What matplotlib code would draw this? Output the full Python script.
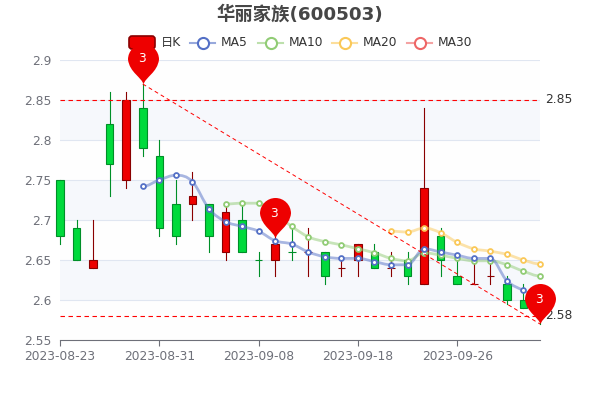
import matplotlib
matplotlib.use("Agg")
import matplotlib.pyplot as plt
from matplotlib.path import Path
from matplotlib.patches import PathPatch, FancyBboxPatch

dates = ["2023-08-23","2023-08-24","2023-08-25","2023-08-28","2023-08-29","2023-08-30","2023-08-31",
         "2023-09-01","2023-09-04","2023-09-05","2023-09-06","2023-09-07","2023-09-08","2023-09-11",
         "2023-09-12","2023-09-13","2023-09-14","2023-09-15","2023-09-18","2023-09-19","2023-09-20",
         "2023-09-21","2023-09-22","2023-09-25","2023-09-26","2023-09-27","2023-09-28","2023-10-09",
         "2023-10-10","2023-10-11"]
opens  = [2.75,2.69,2.64,2.82,2.75,2.84,2.78,2.72,2.72,2.72,2.66,2.70,2.65,2.65,2.66,2.66,2.66,2.64,2.65,2.66,2.64,2.65,2.62,2.68,2.63,2.62,2.63,2.62,2.60,2.58]
closes = [2.68,2.65,2.65,2.77,2.85,2.79,2.69,2.68,2.73,2.68,2.71,2.66,2.65,2.67,2.66,2.66,2.63,2.64,2.67,2.64,2.64,2.63,2.74,2.65,2.62,2.62,2.63,2.60,2.59,2.58]
highs  = [2.75,2.70,2.70,2.86,2.86,2.87,2.80,2.75,2.76,2.72,2.72,2.72,2.66,2.68,2.69,2.69,2.66,2.65,2.67,2.67,2.66,2.66,2.84,2.69,2.65,2.65,2.65,2.63,2.62,2.59]
lows   = [2.67,2.65,2.64,2.73,2.74,2.78,2.68,2.67,2.70,2.66,2.65,2.66,2.63,2.63,2.65,2.63,2.62,2.63,2.63,2.64,2.63,2.62,2.62,2.63,2.62,2.62,2.62,2.595,2.59,2.57]

ma5_idx = list(range(5, 30))
ma5 = [2.742,2.750,2.756,2.748,2.714,2.698,2.692,2.686,2.674,2.670,2.660,2.654,2.652,2.652,2.648,2.644,2.644,2.664,2.660,2.656,2.652,2.652,2.624,2.612,2.604]
ma10_idx = list(range(10, 30))
ma10 = [2.720,2.721,2.721,2.708,2.692,2.679,2.673,2.669,2.664,2.659,2.652,2.649,2.659,2.656,2.652,2.649,2.649,2.644,2.636,2.630]
ma20_idx = list(range(20, 30))
ma20 = [2.686,2.685,2.690,2.684,2.672,2.664,2.661,2.657,2.650,2.645]
pin_idx = [5, 13, 29]
pin_val = [2.87, 2.677, 2.57]
pin_txt = ["3", "3", "3"]
mark_levels = [2.85, 2.58]
y_ticks = [2.55,2.6,2.65,2.7,2.75,2.8,2.85,2.9]
y_labels = ["2.55","2.6","2.65","2.7","2.75","2.8","2.85","2.9"]
x_tick_idx = [0, 6, 12, 18, 24]
legend_names = ["日K","MA5","MA10","MA20","MA30"]
title = "华丽家族(600503)"

UP, UP_E = "#ee0000", "#8a0000"
DN, DN_E = "#00da3c", "#008f28"
C5, C10, C20, C30 = "#5470c6", "#91cc75", "#fac858", "#ee6666"
FONT = ["DejaVu Sans", "Noto Sans CJK SC"]
plt.rcParams["font.family"] = FONT

fig = plt.figure(figsize=(6, 4), dpi=100, facecolor="white")
ov = fig.add_axes([0, 0, 1, 1], zorder=0)
ov.set_xlim(0, 600); ov.set_ylim(400, 0); ov.axis("off")
ax = fig.add_axes([60/600, 60/400, 480/600, 280/400], zorder=1)
ax.patch.set_visible(False)
ax.set_xlim(0, 29); ax.set_ylim(2.55, 2.9)

for i in range(len(y_ticks) - 1):
    c = "#fefefe" if i % 2 == 0 else "#f6f8fc"
    ax.axhspan(y_ticks[i], y_ticks[i+1], color=c, lw=0, zorder=0)
for y in y_ticks[1:]:
    ax.axhline(y, color="#e0e6f1", lw=0.8, zorder=1)

for s in ("top", "left", "right"):
    ax.spines[s].set_visible(False)
ax.spines["bottom"].set_color("#6e7079"); ax.spines["bottom"].set_linewidth(0.8)
ax.set_yticks(y_ticks, y_labels)
ax.set_xticks(x_tick_idx, [dates[i] for i in x_tick_idx])
ax.tick_params(axis="y", length=0, pad=6, labelsize=8.8, labelcolor="#6e7079")
ax.tick_params(axis="x", length=4, width=0.8, color="#6e7079", pad=3.5, labelsize=8.8, labelcolor="#6e7079")

for i in range(len(dates)):
    up = closes[i] > opens[i] or (closes[i] == opens[i] and i in (15, 17, 20, 25, 26))
    e, f = (UP_E, UP) if up else (DN_E, DN)
    lo, hi = min(opens[i], closes[i]), max(opens[i], closes[i])
    ax.plot([i, i], [lows[i], highs[i]], color=e, lw=0.8, zorder=3, clip_on=False)
    ax.bar(i, hi - lo, bottom=lo, width=0.46, facecolor=f, edgecolor=e, lw=0.8, zorder=4, clip_on=False)

def smooth(xs, ys, k=0.35):
    verts = [(xs[0], ys[0])]; codes = [Path.MOVETO]
    n = len(xs)
    for i in range(n - 1):
        a, b = max(i - 1, 0), min(i + 2, n - 1)
        dy0 = ys[i+1] - ys[a]; dy1 = ys[b] - ys[i]
        if (ys[i] - ys[a]) * (ys[i+1] - ys[i]) <= 0: dy0 = 0
        if (ys[i+1] - ys[i]) * (ys[b] - ys[i+1]) <= 0: dy1 = 0
        verts += [(xs[i] + k, ys[i] + dy0 * k / 2), (xs[i+1] - k, ys[i+1] - dy1 * k / 2), (xs[i+1], ys[i+1])]
        codes += [Path.CURVE4] * 3
    return Path(verts, codes)

for xs, ys, c, z in [(ma5_idx, ma5, C5, 7), (ma10_idx, ma10, C10, 6), (ma20_idx, ma20, C20, 5)]:
    ax.add_patch(PathPatch(smooth(xs, ys), fc="none", ec=c, lw=2.0, alpha=0.5, zorder=z))
    ax.plot(xs, ys, ls="none", marker="o", ms=3.5, mfc="white", mec=c, mew=1.3, zorder=z + 0.5, clip_on=False)

for lv in mark_levels:
    ax.plot([0, 29], [lv, lv], color="red", lw=0.8, dashes=(4, 3.2), zorder=8, clip_on=False)
    ax.annotate(f"{lv:.2f}", (29, lv), xytext=(3.6, 0), textcoords="offset points",
                va="center", ha="left", fontsize=8.8, color="#333333", annotation_clip=False, zorder=8)
ax.plot([pin_idx[0], pin_idx[-1]], [pin_val[0], pin_val[-1]], color="red", lw=0.7, dashes=(4, 3.2), zorder=8, clip_on=False)

K = 0.5523
R, CY = 15.5, 25.0
pv = [(0, 0), (1.5, 7), (14, 12), (R, CY),
      (R, CY + K*R), (K*R, CY + R), (0, CY + R),
      (-K*R, CY + R), (-R, CY + K*R), (-R, CY),
      (-14, 12), (-1.5, 7), (0, 0)]
pc = [Path.MOVETO] + [Path.CURVE4] * 12
pin = Path(pv, pc)
for x, y, t in zip(pin_idx, pin_val, pin_txt):
    ax.plot([x], [y], marker=pin, ms=2 * (CY + R) * 0.72, mfc="#ee0000", mec="none", ls="none", zorder=10, clip_on=False)
    ax.annotate(t, (x, y), xytext=(-0.5, CY * 0.72), textcoords="offset points", ha="center", va="center",
                fontsize=8.8, color="white", zorder=11, annotation_clip=False)

fig.text(0.5, 1 - 14/400, title, ha="center", va="center", fontsize=13.2, fontweight="bold", color="#464646", family=FONT)

ly = 42.7
ov.add_patch(FancyBboxPatch((129, 36), 26, 13, boxstyle="round,pad=0,rounding_size=3", fc=UP, ec=UP_E, lw=1.2))
ov.text(160.5, ly, legend_names[0], va="center", ha="left", fontsize=8.8, color="#333333")
for x0, name, c in [(190, legend_names[1], C5), (258, legend_names[2], C10), (332, legend_names[3], C20), (407, legend_names[4], C30)]:
    ov.plot([x0, x0 + 25], [ly, ly], color=c, lw=1.5, alpha=0.6)
    ov.plot([x0 + 12.5], [ly], marker="o", ms=8, mfc="white", mec=c, mew=1.5)
    ov.text(x0 + 31, ly, name, va="center", ha="left", fontsize=8.8, color="#333333")
ov.set_xlim(0, 600); ov.set_ylim(400, 0)

fig.savefig("out.png", dpi=100)
